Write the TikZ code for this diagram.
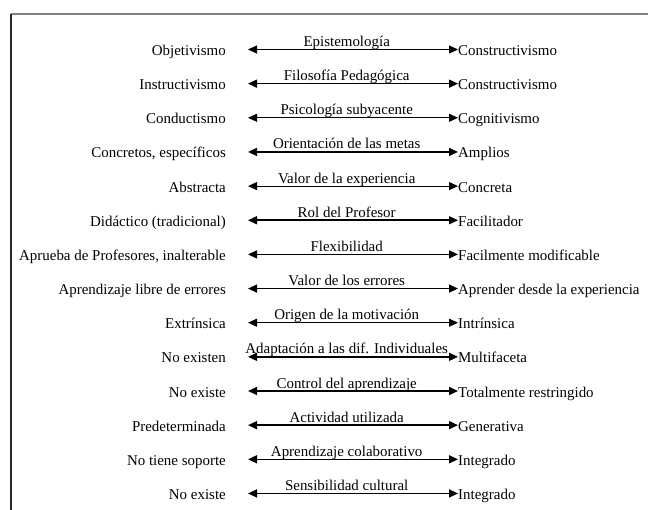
\documentclass[tikz,border=0pt]{standalone}
\usepackage{fontspec}
\setmainfont{Liberation Serif}
\usetikzlibrary{arrows.meta}
\tikzset{
  lefttext/.style={anchor=base east, inner sep=0pt, font=\fontsize{15}{16}\selectfont},
  righttext/.style={anchor=base west, inner sep=0pt, font=\fontsize{15}{16}\selectfont},
  midtext/.style={anchor=base, inner sep=0pt, font=\fontsize{15}{16}\selectfont},
  dimarrow/.style={line width=1.5bp, {Triangle[length=9bp,width=8bp]}-{Triangle[length=9bp,width=8bp]}},
  thinarrow/.style={dimarrow, line width=1bp}
}
\begin{document}
\begin{tikzpicture}[x=1bp,y=-1bp]
\useasboundingbox (0,0) rectangle (648,510);
\coordinate (ftop) at (11,14);
\coordinate (fright) at (648,14);
\coordinate (fbot) at (11,510);
\draw[line width=1.6bp, black!50] (ftop) -- (fright);
\draw[line width=1.6bp, black!85] (ftop) -- (fbot);
\foreach \i/\l/\m/\r/\s in {
  1/Objetivismo/Epistemología/Constructivismo/thinarrow,
  2/Instructivismo/Filosofía Pedagógica/Constructivismo/dimarrow,
  3/Conductismo/Psicología subyacente/Cognitivismo/thinarrow,
  4/{Concretos, específicos}/Orientación de las metas/Amplios/dimarrow,
  5/Abstracta/Valor de la experiencia/Concreta/thinarrow,
  6/Didáctico (tradicional)/Rol del Profesor/Facilitador/dimarrow,
  7/{Aprueba de Profesores, inalterable}/Flexibilidad/Facilmente modificable/thinarrow,
  8/Aprendizaje libre de errores/Valor de los errores/Aprender desde la experiencia/dimarrow,
  9/Extrínsica/Origen de la motivación/Intrínsica/thinarrow,
  10/No existen/Adaptación a las dif. Individuales/Multifaceta/dimarrow,
  11/No existe/Control del aprendizaje/Totalmente restringido/dimarrow,
  12/Predeterminada/Actividad utilizada/Generativa/dimarrow,
  13/No tiene soporte/Aprendizaje colaborativo/Integrado/dimarrow,
  14/No existe/Sensibilidad cultural/Integrado/dimarrow} {
  \pgfmathsetmacro{\yy}{49.5+34.15*(\i-1)}
  \coordinate (a\i) at (248,\yy);
  \coordinate (b\i) at (458,\yy);
  \node[lefttext] (L\i) at (226,\yy+6) {\l};
  \node[righttext] (R\i) at (458,\yy+6) {\r};
  \draw[\s] (a\i) -- (b\i) node[midtext, pos=0.47, yshift=3bp] (M\i) {\m};
}
\end{tikzpicture}
\end{document}
